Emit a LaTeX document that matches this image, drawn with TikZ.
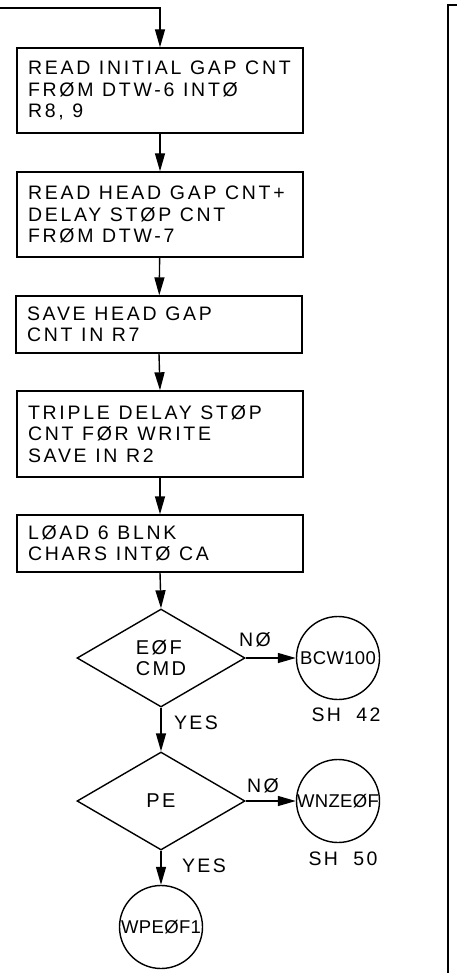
\documentclass[tikz,border=0pt]{standalone}
\usepackage{fontspec}
\setmainfont{Liberation Sans}
\newfontfamily\hand[LetterSpace=14]{Liberation Sans}
\newfontfamily\handl[LetterSpace=12,WordSpace=2]{Liberation Sans}
\newfontfamily\handn[LetterSpace=2]{Liberation Sans}
\usetikzlibrary{shapes.geometric,arrows.meta}
\begin{document}
\begin{tikzpicture}[x=1pt,y=-1pt,
  ln/.style={line width=1.4pt},
  arr/.style={ln,-{Triangle[length=18pt,width=10pt]}},
  procbox/.style={draw,ln,rectangle,minimum width=286pt,text width=264pt,align=left,inner xsep=11pt,inner ysep=0pt,font=\hand\fontsize{19.5}{21.5}\selectfont,execute at begin node={\spaceskip=0.44em\relax\rightskip=-16pt plus 1fil\relax}},
  decision/.style={draw,ln,diamond,minimum width=168pt,minimum height=98pt,inner sep=0pt,align=left,font=\handl\fontsize{20}{20.5}\selectfont},
  conn/.style={draw,ln,circle,minimum size=83pt,inner sep=0pt,font=\handn\fontsize{18.5}{20}\selectfont},
  lbl/.style={font=\handl\fontsize{19.5}{20}\selectfont,inner sep=0pt}]
\useasboundingbox (0,0) rectangle (457,973);
\node[procbox,minimum height=85pt] (b1) at (160,90.5) {READ INITIAL GAP CNT\\FRØM DTW-6 INTØ\\R8, 9};
\node[procbox,minimum height=85pt] (b2) at (160,214.5) {READ HEAD GAP CNT+\\DELAY STØP CNT\\FRØM DTW-7};
\node[procbox,minimum height=57pt] (b3) at (159,324.5) {SAVE HEAD GAP\\CNT IN R7};
\node[procbox,minimum height=86pt] (b4) at (160,434) {TRIPLE DELAY STØP\\CNT FØR WRITE\\SAVE IN R2};
\node[procbox,minimum height=57pt] (b5) at (160,543.5) {LØAD 6 BLNK\\CHARS INTØ CA};
\node[decision] (d1) at (161,658) {EØF\\CMD};
\node[decision] (d2) at (161,801) {PE};
\node[conn] (c1) at (338,658) {BCW100};
\node[conn] (c2) at (338,801) {WNZEØF};
\node[conn] (c3) at (161,927) {WPEØF1};
\node[lbl] (n1) at (255,640) {NØ};
\node[lbl] (s1) at (346,715) {SH 42};
\node[lbl] (y1) at (196,723) {YES};
\node[lbl] (n2) at (263,786) {NØ};
\node[lbl] (s2) at (343,859) {SH 50};
\node[lbl] (y2) at (204,866) {YES};
\coordinate (in0) at (0,8);
\coordinate (in1) at (160,8);
\draw[arr] (in0) -- (in1) -- (b1.north);
\draw[arr] (b1) -- (b2);
\draw[arr] (b2) -- (b3);
\draw[arr] (b3.south) -- (b4.north);
\draw[arr] (b4) -- (b5);
\draw[arr] (b5.south) -- (d1.north);
\draw[arr] (d1.south) -- (d2.north);
\draw[arr] (d2.south) -- (c3.north);
\draw[arr] (d1.east) -- (c1.west);
\draw[arr] (d2.east) -- (c2.west);
\coordinate (r0) at (448,973);
\coordinate (r1) at (448,5);
\coordinate (r2) at (457,5);
\draw[ln] (r0) -- (r1) -- (r2);
\end{tikzpicture}
\end{document}
